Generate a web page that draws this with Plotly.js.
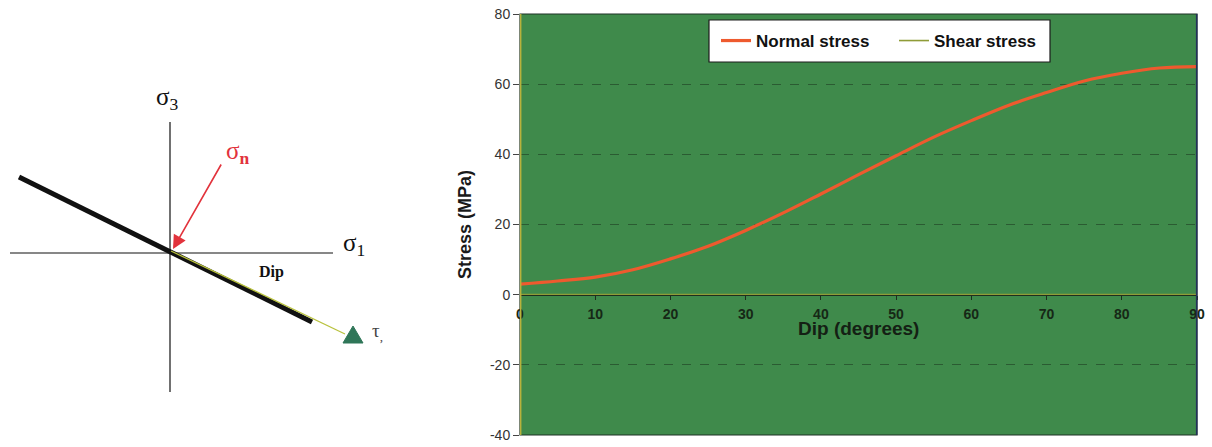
<!DOCTYPE html>
<html>
<head>
<meta charset="utf-8">
<script src="https://cdn.plot.ly/plotly-3.0.1.min.js"></script>
<style>html,body{margin:0;padding:0;background:#fff;}#chart{width:1212px;height:447px;}</style>
</head>
<body>
<div id="chart"></div>
<script>
// ---- Chart data ----
const dipDegrees = [0, 5, 10, 15, 20, 25, 30, 35, 40, 45, 50, 55, 60, 65, 70, 75, 80, 85, 90];
const normalStress = [3.0, 3.9, 5.0, 7.1, 10.2, 13.8, 18.3, 23.3, 28.7, 34.2, 39.6, 44.9, 49.6, 54.0, 57.6, 60.9, 63.1, 64.6, 65.0];
const shearStress = [0, 0, 0, 0, 0, 0, 0, 0, 0, 0, 0, 0, 0, 0, 0, 0, 0, 0, 0];
const xTickValues = [0, 10, 20, 30, 40, 50, 60, 70, 80, 90];
const yTickValues = [-40, -20, 0, 20, 40, 60, 80];
const yTickLabels = ["-40", "-20", "0", "20", "40", "60", "80"];
const seriesNames = ["Normal stress", "Shear stress"];
const xTitle = "Dip (degrees)";
const yTitle = "Stress (MPa)";

// ---- Layout constants ----
const W = 1212, H = 447;
const mL = 0, mR = 15, mT = 14, mB = 12;
const plotW = W - mL - mR, plotH = H - mT - mB;
const mainLeftPx = 520;
const yMin = -40, yMax = 80;
const pxX = (px) => (px - mL) / plotW;          // paper fraction from pixel x
const pxY = (py) => (H - mB - py) / plotH;      // paper fraction from pixel y

const traces = [
  {
    x: dipDegrees, y: normalStress, name: seriesNames[0], type: "scatter", mode: "lines",
    line: {color: "#ee5a2e", width: 3.2, shape: "spline"}, xaxis: "x", yaxis: "y"
  },
  {
    x: dipDegrees, y: shearStress, name: seriesNames[1], type: "scatter", mode: "lines",
    line: {color: "#8f9c38", width: 1.6}, xaxis: "x", yaxis: "y"
  }
];

const diag = {xref: "x2", yref: "y2"};
const shapes = [
  // white background for the schematic panel
  {type: "rect", xref: "x2 domain", yref: "y2 domain", x0: 0, x1: 1, y0: 0, y1: 1,
   fillcolor: "#ffffff", line: {width: 0}, layer: "below"},
  // main plot border
  {type: "rect", xref: "x domain", yref: "y domain", x0: 0, x1: 1, y0: 0, y1: 1,
   line: {color: "#1f3326", width: 1.2}, layer: "above"},
  {type: "line", xref: "x domain", yref: "y domain", x0: 0.9995, x1: 0.9995, y0: 0, y1: 1,
   line: {color: "#22305a", width: 1.5}, layer: "above"},
  {type: "line", xref: "x domain", yref: "y domain", x0: 0.001, x1: 0.001, y0: 0, y1: 1,
   line: {color: "#b8b23c", width: 1.5}, layer: "above"},
  // legend box
  {type: "rect", xref: "paper", yref: "paper", x0: pxX(709), x1: pxX(1050), y0: pxY(62), y1: pxY(20),
   fillcolor: "#ffffff", line: {color: "#1c1c1c", width: 1.2}, layer: "above"},
  // schematic axes
  Object.assign({type: "line", x0: 170, x1: 170, y0: 122, y1: 392, line: {color: "#111", width: 1.2}}, diag),
  Object.assign({type: "line", x0: 10, x1: 333, y0: 253, y1: 253, line: {color: "#111", width: 1.2}}, diag),
  // fault plane
  Object.assign({type: "line", x0: 19, x1: 312, y0: 177, y1: 322, line: {color: "#111", width: 5}}, diag),
  // shear direction line
  Object.assign({type: "line", x0: 171, x1: 345, y0: 251, y1: 334, line: {color: "#b9c23e", width: 1.3}}, diag),
  // shear arrowhead
  Object.assign({type: "path", path: "M 343 343 L 363 343 L 353 326 Z",
   fillcolor: "#2f7658", line: {color: "#2f7658", width: 1}}, diag)
];

const serif = "Liberation Serif, DejaVu Serif, serif";
const annotations = [
  Object.assign({x: 167, y: 98, text: "σ<sub>3</sub>", showarrow: false,
   font: {family: serif, size: 25, color: "#111"}}, diag),
  Object.assign({x: 237, y: 152, text: "σ<sub><b>n</b></sub>", showarrow: false,
   font: {family: serif, size: 25, color: "#e2333c"}}, diag),
  Object.assign({x: 354, y: 244, text: "σ<sub>1</sub>", showarrow: false,
   font: {family: serif, size: 25, color: "#111"}}, diag),
  Object.assign({x: 271, y: 272, text: "Dip", showarrow: false,
   font: {family: serif, size: 16, color: "#111", weight: "bold"}}, diag),
  Object.assign({x: 377, y: 332, text: "τ<sub>,</sub>", showarrow: false,
   font: {family: serif, size: 19, color: "#444"}}, diag),
  // red normal-stress arrow
  Object.assign({x: 173, y: 249, ax: 222, ay: 163, axref: "x2", ayref: "y2", text: "",
   showarrow: true, arrowhead: 2, arrowsize: 1.7, arrowwidth: 1.6, arrowcolor: "#e2333c"}, diag),
  // x-axis title sitting inside the plot
  {xref: "x domain", yref: "paper", x: 0.5, y: pxY(341), text: xTitle, showarrow: false,
   font: {family: "Liberation Sans, Arial, sans-serif", size: 19, color: "#142014", weight: "bold"}}
];

const layout = {
  width: W, height: H,
  margin: {l: mL, r: mR, t: mT, b: mB, pad: 0},
  paper_bgcolor: "#ffffff",
  plot_bgcolor: "#3f8a4b",
  font: {family: "Liberation Sans, Arial, sans-serif"},
  showlegend: true,
  legend: {
    orientation: "h", x: pxX(716), y: pxY(41), xanchor: "left", yanchor: "middle",
    bgcolor: "rgba(0,0,0,0)", borderwidth: 0, entrywidth: 133, entrywidthmode: "pixels",
    itemwidth: 30,
    font: {size: 17, color: "#111", weight: "bold"}, traceorder: "normal"
  },
  xaxis: {
    domain: [pxX(mainLeftPx), 1], range: [0, 90], anchor: "free",
    position: (0 - yMin) / (yMax - yMin),
    tickvals: xTickValues, ticks: "outside", ticklen: 4, tickcolor: "#1e2e1e",
    ticklabelstandoff: 3,
    tickfont: {size: 14, color: "#162816", weight: "bold"},
    showline: true, linecolor: "#1e2e1e", linewidth: 1, showgrid: false, zeroline: false,
    fixedrange: true
  },
  yaxis: {
    domain: [0, 1], range: [yMin, yMax], anchor: "x",
    tickvals: yTickValues, ticktext: yTickLabels, ticks: "outside", ticklen: 6, tickcolor: "#444",
    tickfont: {size: 14, color: "#333"},
    showgrid: true, gridcolor: "#2b5b32", griddash: "dash", gridwidth: 1, zeroline: false,
    showline: false,
    title: {text: yTitle, font: {size: 18, color: "#1a1a1a", weight: "bold"}, standoff: 13},
    fixedrange: true
  },
  xaxis2: {domain: [0, pxX(440)], range: [0, 440], anchor: "y2", visible: false, fixedrange: true},
  yaxis2: {domain: [0, 1], range: [H - mB, mT], anchor: "x2", visible: false, fixedrange: true},
  shapes: shapes,
  annotations: annotations
};

Plotly.newPlot("chart", traces, layout, {displayModeBar: false, staticPlot: true});
</script>
</body>
</html>
